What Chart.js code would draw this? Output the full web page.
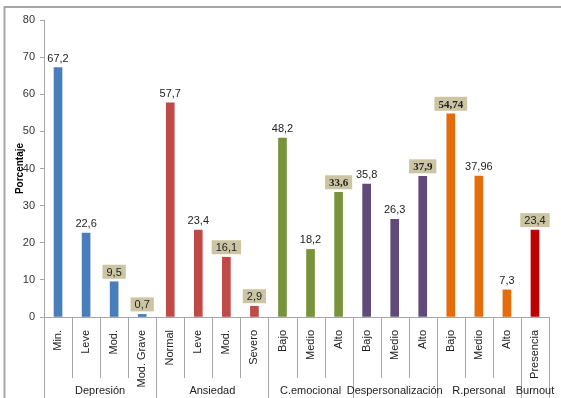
<!DOCTYPE html>
<html>
<head>
<meta charset="utf-8">
<script src="https://cdn.jsdelivr.net/npm/chart.js@4"></script>
<style>
  body { margin: 0; background: #fff; }
  canvas { display: block; }
</style>
</head>
<body>
<canvas id="burnoutChart" width="561" height="398"></canvas>
<script>
// datos
const categories = ['Min.', 'Leve', 'Mod.', 'Mod. Grave', 'Normal', 'Leve', 'Mod.', 'Severo',
    'Bajo', 'Medio', 'Alto', 'Bajo', 'Medio', 'Alto', 'Bajo', 'Medio', 'Alto', 'Presencia'];
const values = [67.2, 22.6, 9.5, 0.7, 57.7, 23.4, 16.1, 2.9, 48.2, 18.2, 33.6, 35.8, 26.3, 37.9, 54.74, 37.96, 7.3, 23.4];
const groupNames = ['Depresión', 'Ansiedad', 'C.emocional', 'Despersonalización', 'R.personal', 'Burnout'];
const groupSizes = [4, 4, 3, 3, 3, 1];
const yTicks = [0, 10, 20, 30, 40, 50, 60, 70, 80];

// estilos
const groupColors = ['#4A7EBB', '#BE4B48', '#77933C', '#604A7B', '#E46C0A', '#C00000'];
const boxedIdx = [2, 3, 6, 7, 10, 13, 14, 17];
const boldIdx = [10, 13, 14];

const barColors = [];
groupSizes.forEach((n, g) => { for (let i = 0; i < n; i++) barColors.push(groupColors[g]); });

const fmt = v => String(v).replace('.', ',');

const decorPlugin = {
    id: 'decor',
    beforeDraw(chart) {
        const c = chart.ctx;
        c.save();
        c.fillStyle = '#fff';
        c.fillRect(0, 0, chart.width, chart.height);
        c.strokeStyle = '#a6a6a6';
        c.lineWidth = 2;
        c.beginPath();
        c.moveTo(4.5, chart.height);
        c.lineTo(4.5, 7);
        c.lineTo(chart.width, 7);
        c.stroke();
        c.restore();
    },
    afterDatasetsDraw(chart) {
        const c = chart.ctx;
        const meta = chart.getDatasetMeta(0);
        c.save();
        c.textAlign = 'center';
        c.textBaseline = 'alphabetic';
        meta.data.forEach((bar, i) => {
            const txt = fmt(values[i]);
            const bold = boldIdx.includes(i);
            c.font = bold ? 'bold 11px "Liberation Serif"' : '11px "Liberation Sans"';
            const w = c.measureText(txt).width;
            if (boxedIdx.includes(i)) {
                c.fillStyle = '#CCC5A3';
                c.fillRect(bar.x - w / 2 - 4, bar.y - 17, w + 8, 14);
            }
            c.fillStyle = '#222';
            c.fillText(txt, bar.x, bar.y - 6);
        });
        c.restore();
    },
    afterDraw(chart) {
        const c = chart.ctx;
        const x = chart.scales.x;
        const area = chart.chartArea;
        const half = (x.getPixelForValue(1) - x.getPixelForValue(0)) / 2;
        c.save();
        c.strokeStyle = '#a6a6a6';
        c.lineWidth = 1;
        // separadores de categorias
        const ends = [];
        let acc = 0;
        groupSizes.forEach(n => { acc += n; ends.push(acc); });
        for (let i = 0; i <= categories.length; i++) {
            const px = Math.round(x.getPixelForValue(i) - half) + 0.5;
            const long = i === 0 || ends.includes(i);
            c.beginPath();
            c.moveTo(px, area.bottom);
            c.lineTo(px, long ? chart.height : area.bottom + 61);
            c.stroke();
        }
        // etiquetas de grupo
        c.fillStyle = '#222';
        c.font = '11px "Liberation Sans"';
        c.textAlign = 'center';
        c.textBaseline = 'middle';
        let start = 0;
        groupSizes.forEach((n, g) => {
            const x0 = x.getPixelForValue(start) - half;
            const x1 = x.getPixelForValue(start + n - 1) + half;
            c.fillText(groupNames[g], (x0 + x1) / 2, area.bottom + 74);
            start += n;
        });
        c.restore();
    }
};

const ctx = document.getElementById('burnoutChart').getContext('2d');
const burnoutChart = new Chart(ctx, {
    type: 'bar',
    data: {
        labels: categories,
        datasets: [{
            data: values,
            backgroundColor: barColors,
            barThickness: 8
        }]
    },
    options: {
        responsive: false,
        animation: false,
        layout: { padding: { left: 0, right: 12, top: 20, bottom: 0 } },
        plugins: {
            legend: { display: false },
            tooltip: { enabled: false }
        },
        scales: {
            x: {
                grid: { display: false },
                border: { color: '#a6a6a6' },
                ticks: {
                    autoSkip: false,
                    minRotation: 90,
                    maxRotation: 90,
                    padding: 5,
                    color: '#222',
                    font: { family: 'Liberation Sans', size: 11 }
                },
                afterFit: s => { s.height = 81; }
            },
            y: {
                min: 0,
                max: 80,
                afterBuildTicks: s => { s.ticks = yTicks.map(v => ({ value: v })); },
                grid: { drawOnChartArea: false, tickLength: 4, color: '#a6a6a6' },
                border: { color: '#a6a6a6' },
                ticks: {
                    padding: 5,
                    color: '#333',
                    font: { family: 'Liberation Sans', size: 11 }
                },
                title: {
                    display: true,
                    text: 'Porcentaje',
                    color: '#000',
                    font: { family: 'Liberation Sans', size: 10, weight: 'bold' },
                    padding: { top: 14, bottom: 0 }
                },
                afterFit: s => { s.width = 44; }
            }
        }
    },
    plugins: [decorPlugin]
});
</script>
</body>
</html>
